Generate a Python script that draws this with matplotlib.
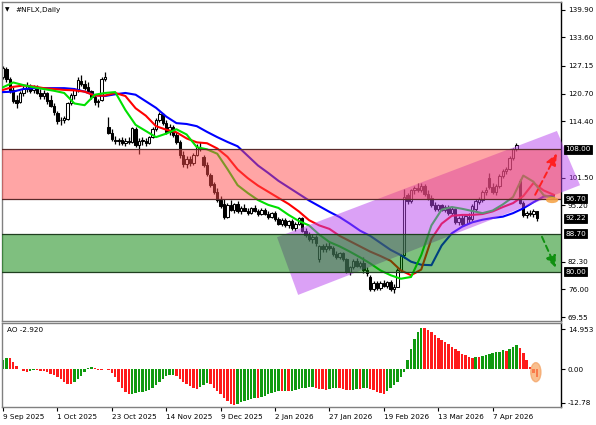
import numpy as np
import matplotlib
matplotlib.use("Agg")
import matplotlib.pyplot as plt
import matplotlib.transforms as mtransforms
from matplotlib.patches import Polygon, Ellipse

# ---- daily candles (NFLX), index 0 = 9 Sep 2025 ----
opens = [124.5, 126.3, 124.0, 121.5, 119.2, 118.8, 121.0, 121.8, 122.5, 121.5,
         122.3, 121.0, 120.3, 121.0, 119.2, 118.0, 116.4, 114.6, 114.8, 115.0,
         118.6, 120.4, 121.6, 123.6, 123.0, 122.2, 121.3, 120.0, 118.8, 119.2,
         124.0, 113.2, 111.8, 110.2, 109.8, 110.2, 109.4, 110.0, 109.6, 112.6,
         109.0, 109.8, 110.0, 109.5, 110.8, 112.6, 114.8, 116.0, 114.0, 112.0,
         113.0, 111.2, 109.7, 106.8, 104.6, 105.8, 104.8, 106.8, 108.4, 106.2,
         104.4, 102.2, 100.0, 98.3, 96.5, 95.5, 92.6, 95.3, 94.2, 95.5,
         93.9, 94.6, 94.0, 93.5, 94.5, 93.9, 93.2, 94.2, 93.3, 92.5,
         93.4, 92.0, 91.0, 91.8, 90.6, 91.5, 89.9, 91.0, 92.2, 89.4,
         88.4, 87.5, 88.0, 83.0, 85.8, 85.2, 86.0, 85.4, 84.0, 83.4,
         84.2, 82.8, 80.0, 81.0, 82.4, 81.4, 82.0, 80.4, 78.8, 76.0,
         77.4, 76.2, 77.4, 76.8, 77.6, 76.0, 76.6, 80.4, 83.8, 97.5,
         96.2, 98.6, 99.2, 98.6, 99.6, 97.8, 96.9, 95.2, 94.4, 95.2,
         94.2, 94.8, 93.4, 94.4, 91.4, 92.4, 91.0, 92.6, 92.0, 94.4,
         96.0, 96.4, 98.2, 101.4, 99.4, 98.2, 99.6, 102.0, 103.0, 103.6,
         106.0, 108.0, 100.8, 95.8, 93.0, 93.4, 93.2, 93.8]
highs = [127.0, 126.8, 124.5, 122.3, 120.5, 121.4, 122.5, 123.3, 123.0, 122.8,
         122.7, 121.8, 121.5, 121.2, 120.4, 118.5, 116.8, 115.5, 115.6, 118.8,
         121.0, 122.0, 124.5, 125.0, 123.8, 123.3, 121.6, 120.4, 119.5, 124.5,
         125.8, 115.4, 112.6, 111.0, 110.6, 110.8, 110.6, 110.9, 113.2, 113.0,
         110.5, 110.8, 110.7, 111.0, 113.0, 115.2, 116.6, 116.4, 114.8, 113.8,
         113.5, 112.0, 110.2, 107.6, 106.4, 106.5, 107.2, 109.2, 109.6, 106.8,
         105.0, 102.6, 100.6, 99.2, 97.4, 96.6, 95.8, 96.4, 95.8, 96.2,
         95.0, 95.5, 94.6, 94.8, 95.2, 94.3, 94.5, 94.6, 93.8, 93.6,
         94.0, 92.6, 92.3, 92.2, 91.8, 92.0, 91.4, 92.6, 92.5, 90.0,
         89.2, 88.6, 88.3, 86.2, 86.4, 86.5, 86.8, 85.8, 84.8, 84.6,
         84.6, 83.2, 81.4, 82.8, 83.2, 82.4, 83.4, 81.0, 79.2, 77.8,
         77.9, 77.8, 78.0, 77.9, 78.0, 77.2, 80.8, 84.0, 99.0, 98.0,
         99.0, 99.6, 100.2, 100.4, 100.0, 98.6, 97.6, 96.0, 95.6, 95.6,
         95.2, 95.2, 94.8, 94.6, 92.8, 93.0, 93.2, 93.4, 95.4, 96.6,
         97.0, 98.6, 99.4, 102.6, 100.4, 100.0, 102.4, 103.4, 104.0, 106.4,
         108.4, 109.4, 101.2, 96.2, 93.8, 94.2, 94.4, 94.0]
lows = [124.0, 123.5, 120.8, 118.5, 117.5, 118.5, 120.3, 121.2, 121.0, 120.8,
        120.6, 119.5, 119.6, 118.4, 117.6, 115.8, 113.8, 113.5, 114.0, 114.8,
        118.2, 119.5, 121.2, 122.6, 121.6, 121.0, 119.6, 118.2, 117.6, 119.0,
        123.6, 111.4, 109.8, 109.2, 109.0, 109.0, 108.8, 109.2, 109.4, 108.6,
        107.0, 109.0, 108.8, 109.2, 110.5, 112.2, 114.3, 113.5, 111.5, 111.2,
        110.8, 109.2, 106.0, 104.0, 103.8, 104.3, 104.5, 106.4, 107.6, 104.0,
        101.8, 99.4, 97.8, 96.0, 94.6, 92.0, 92.2, 93.8, 93.5, 93.4,
        93.2, 93.8, 93.0, 93.2, 93.6, 92.8, 92.9, 93.0, 92.0, 92.2,
        91.6, 90.6, 90.4, 90.2, 90.0, 89.5, 89.4, 90.6, 89.0, 88.0,
        87.0, 86.6, 86.0, 82.2, 84.6, 84.5, 85.0, 83.6, 83.0, 82.8,
        82.4, 79.6, 79.2, 80.6, 81.0, 80.8, 79.8, 79.0, 75.6, 75.6,
        75.8, 75.9, 76.4, 76.2, 75.5, 75.2, 76.4, 80.0, 83.2, 95.6,
        95.8, 97.8, 98.2, 98.2, 97.4, 96.4, 94.8, 94.0, 93.8, 93.8,
        93.6, 93.0, 93.0, 91.0, 90.6, 90.4, 90.6, 91.2, 91.6, 93.8,
        95.4, 96.0, 97.6, 99.0, 97.8, 97.6, 99.2, 101.4, 102.4, 103.2,
        105.6, 107.6, 95.4, 92.6, 92.4, 92.8, 92.6, 91.6]
closes = [126.5, 124.2, 121.3, 119.0, 118.6, 121.0, 121.8, 122.6, 121.4, 122.3,
          121.0, 120.2, 121.0, 119.0, 118.0, 116.5, 114.5, 114.8, 115.2, 118.5,
          120.4, 121.6, 123.8, 122.9, 122.1, 121.4, 120.0, 118.8, 119.0, 124.0,
          124.5, 111.8, 110.3, 109.8, 110.2, 109.4, 110.0, 109.6, 112.8, 109.0,
          109.8, 110.2, 109.5, 110.8, 112.6, 114.8, 116.2, 114.0, 112.0, 113.2,
          111.2, 109.7, 106.8, 104.6, 105.8, 104.8, 106.8, 108.6, 108.0, 104.4,
          102.3, 99.8, 98.3, 96.5, 95.0, 92.6, 95.3, 94.2, 95.5, 93.9,
          94.6, 94.0, 93.5, 94.5, 93.9, 93.2, 94.2, 93.3, 92.5, 93.4,
          92.0, 91.0, 91.8, 90.6, 91.5, 89.9, 91.0, 92.2, 89.4, 88.4,
          87.5, 88.0, 86.5, 85.8, 85.2, 86.0, 85.4, 84.0, 83.4, 84.2,
          82.8, 80.0, 81.0, 82.4, 81.4, 82.0, 80.4, 79.6, 76.0, 77.4,
          76.2, 77.4, 76.8, 77.6, 76.0, 76.6, 80.4, 83.6, 97.0, 96.2,
          98.6, 99.2, 98.6, 99.6, 97.8, 96.9, 95.2, 94.4, 95.2, 94.2,
          94.8, 93.4, 94.4, 91.4, 92.4, 91.0, 92.8, 92.0, 95.0, 96.2,
          96.6, 98.2, 98.8, 99.4, 98.2, 99.6, 102.0, 103.0, 103.6, 106.0,
          108.0, 108.9, 95.8, 93.0, 93.4, 93.2, 93.8, 92.22]

# ---- Alligator lines, one value every 3 bars ----
line_step = 3
jaw = [121.1, 121.2, 121.8, 122.0, 122.0, 122.0, 122.0, 121.8, 121.2, 120.4,
       120.2, 120.6, 120.9, 120.5, 119.0, 117.5, 115.5, 114.0, 113.8, 113.3,
       112.0, 110.8, 109.7, 108.7, 106.5, 104.3, 102.6, 100.8, 99.3, 97.8,
       96.3, 95.0, 93.7, 92.5, 91.0, 89.4, 88.2, 86.6, 85.0, 83.8,
       82.3, 81.6, 81.5, 86.0, 88.8, 90.3, 91.3, 91.9, 92.3, 92.6,
       93.4, 94.5, 95.9, 97.2, 97.4]
teeth = [121.6, 122.3, 122.6, 122.4, 122.0, 121.8, 121.6, 121.5, 121.2, 120.3,
         120.3, 120.9, 120.2, 117.4, 115.7, 113.3, 112.5, 111.9, 110.5, 109.6,
         109.4, 108.2, 106.3, 103.4, 101.4, 99.7, 98.3, 96.9, 95.5, 93.8,
         91.8, 90.6, 89.8, 88.2, 87.0, 85.8, 84.6, 83.6, 82.5, 80.3,
         79.2, 80.5, 87.5, 91.0, 92.8, 93.0, 93.0, 93.2, 93.8, 94.8,
         95.7, 97.3, 100.3, 98.6, 97.6]
lips = [122.2, 123.3, 122.7, 122.2, 121.8, 121.4, 120.9, 118.5, 118.1, 120.5,
        120.9, 121.1, 117.0, 113.6, 112.2, 110.8, 111.6, 112.6, 111.4, 108.5,
        108.0, 107.0, 103.5, 99.8, 98.0, 96.4, 95.3, 94.6, 93.0, 91.6,
        90.6, 88.5, 86.8, 85.8, 84.6, 83.3, 81.9, 80.3, 79.2, 78.4,
        78.8, 83.8, 90.6, 94.2, 94.8, 94.4, 93.9, 93.4, 94.0, 95.4,
        97.1, 102.0, 100.6, 97.5, 96.9]

# ---- Awesome Oscillator ----
ao = [3.5, 4.3, 4.0, 2.5, 1.0, 0.1, -0.8, -1.2, -0.9, -0.4,
      -0.5, -0.7, -0.9, -1.2, -1.7, -2.3, -3.0, -3.8, -4.8, -5.5,
      -5.6, -5.0, -3.8, -2.5, -1.3, 0.3, 0.8, 0.5, -0.4, -0.5,
      0.1, -0.3, -1.5, -3.0, -5.0, -7.0, -8.8, -9.5, -9.3, -8.9,
      -8.6, -8.5, -8.2, -7.8, -7.0, -6.0, -5.0, -3.8, -2.8, -2.3,
      -2.2, -2.6, -3.6, -4.8, -5.7, -6.4, -7.0, -7.4, -6.8, -5.9,
      -5.4, -5.8, -7.0, -8.2, -9.5, -11.0, -12.2, -13.2, -13.6, -13.0,
      -12.4, -11.9, -11.6, -11.3, -11.0, -11.1, -10.6, -10.2, -9.6, -9.0,
      -8.5, -8.3, -8.4, -8.3, -8.4, -8.1, -7.9, -7.5, -7.1, -7.0,
      -6.9, -6.8, -7.2, -7.5, -7.7, -7.8, -7.5, -7.2, -7.0, -7.2,
      -7.5, -7.8, -8.0, -7.8, -7.6, -7.7, -7.3, -7.0, -7.4, -7.8,
      -8.5, -8.9, -9.3, -8.3, -7.3, -6.2, -4.8, -2.9, -1.0, 3.4,
      7.4, 11.2, 14.1, 15.6, 15.5, 14.8, 13.8, 12.8, 11.8, 11.0,
      10.2, 9.3, 8.4, 7.5, 6.6, 5.8, 5.1, 4.7, 4.3, 4.5,
      4.4, 4.9, 5.3, 5.7, 6.0, 6.3, 6.5, 7.0, 6.8, 7.4,
      8.2, 9.1, 7.8, 6.1, 3.4, 0.9, -1.4, -2.92]

# axis labels
date_ticks = [0, 16, 32, 48, 64, 80, 96, 112, 128, 144]
date_labels = ["9 Sep 2025", "1 Oct 2025", "23 Oct 2025", "14 Nov 2025", "9 Dec 2025",
               "2 Jan 2026", "27 Jan 2026", "19 Feb 2026", "13 Mar 2026", "7 Apr 2026"]
price_ticks = [139.90, 133.60, 127.15, 120.70, 114.40, 101.50, 95.20, 82.30, 76.00, 69.55]
price_boxes = [108.00, 96.70, 92.22, 88.70, 80.00]
ao_ticks = [14.953, 0.0, -12.78]
ao_tick_labels = ["14.953", "0.00", "-12.78"]

# zones and analyst drawings (bar index, price)
sell_zone = (96.70, 108.00)
buy_zone = (80.00, 88.70)
channel = [(80.6, 87.9), (162.9, 112.2), (169.7, 99.8), (86.8, 74.7)]
up_arrow = [(156.5, 97.6), (162.9, 107.1)]
down_arrow = [(158.5, 88.0), (162.6, 80.9)]

FS = 5.2
plt.rcParams["font.family"] = ["DejaVu Sans"]

W, H = 596, 425
fig = plt.figure(figsize=(W / 100, H / 100), dpi=100)
fig.patch.set_facecolor("white")
ax = fig.add_axes([2 / W, 1 - 321 / H, 559 / W, 319 / H])
ax2 = fig.add_axes([2 / W, 1 - 407 / H, 559 / W, 84 / H])

xmin, xmax = -0.29, 164.1
for a in (ax, ax2):
    a.set_xlim(xmin, xmax)
    for s in ("top", "left", "bottom"):
        a.spines[s].set_color("#808080")
        a.spines[s].set_linewidth(1.0)
    a.spines["right"].set_color("black")
    a.spines["right"].set_linewidth(1.0)
ax.set_ylim(68.73, 141.71)
ax2.set_ylim(-14.31, 17.33)

# candles
o = np.array(opens); h = np.array(highs); l = np.array(lows); c = np.array(closes)
idx = np.arange(len(c))
up = c >= o
ax.vlines(idx, l, h, color="black", lw=0.9, zorder=2)
bot = np.minimum(o, c)
hgt = np.maximum(np.abs(c - o), 0.15)
ax.bar(idx[up], hgt[up], bottom=bot[up], width=0.7, facecolor="white",
       edgecolor="black", linewidth=0.75, zorder=2.5)
ax.bar(idx[~up], hgt[~up], bottom=bot[~up], width=0.7, color="black",
       edgecolor="black", linewidth=0.75, zorder=2.5)

# alligator
lx = np.arange(len(jaw)) * line_step
ax.plot(lx, jaw, color="#0000ff", lw=1.5, zorder=3)
ax.plot(lx, teeth, color="#ff0000", lw=1.5, zorder=3)
ax.plot(lx, lips, color="#00e000", lw=1.5, zorder=3)

# channel and zones
ax.add_patch(Polygon(channel, closed=True, facecolor="#b845ee", alpha=0.5,
                     edgecolor="none", zorder=4, clip_on=False))
ax.axhspan(*sell_zone, facecolor="#ff4d4d", alpha=0.5, edgecolor="none", zorder=5)
ax.axhspan(*buy_zone, facecolor="#008000", alpha=0.5, edgecolor="none", zorder=5)
for v in sell_zone:
    ax.axhline(v, color="#5a2a2a", lw=0.9, zorder=5.5)
for v in buy_zone:
    ax.axhline(v, color="#1f3f1f", lw=0.9, zorder=5.5)

# forecast arrows
ax.annotate("", xy=up_arrow[1], xytext=up_arrow[0], annotation_clip=False, zorder=7,
            arrowprops=dict(arrowstyle="-|>,head_length=0.7,head_width=0.3",
                            color="#ff2020", lw=1.4, linestyle=(0, (3, 2)),
                            shrinkA=0, shrinkB=0))
ax.annotate("", xy=down_arrow[1], xytext=down_arrow[0], annotation_clip=False, zorder=7,
            arrowprops=dict(arrowstyle="-|>,head_length=0.7,head_width=0.3",
                            color="#109010", lw=1.4, linestyle=(0, (3, 2)),
                            shrinkA=0, shrinkB=0))
ax.add_patch(Ellipse((161.5, 96.4), 3.6, 1.4, facecolor="#f5a040", alpha=0.85,
                     edgecolor="none", zorder=6.5, clip_on=False))

# price axis
ax.yaxis.tick_right()
ax.set_yticks(price_ticks)
ax.set_yticklabels([f"{v:.2f}" for v in price_ticks])
ax.tick_params(axis="y", direction="out", length=3, width=0.8, pad=2,
               labelsize=FS, colors="black")
ax.set_xticks([])
trans = mtransforms.blended_transform_factory(ax.transAxes, ax.transData)
for v in price_boxes:
    ax.text(1.0075, v, f"{v:.2f}", transform=trans, ha="left", va="center",
            fontsize=FS, color="white", zorder=10, clip_on=False,
            bbox=dict(boxstyle="square,pad=0.2", fc="black", ec="black", lw=0.6))

ax.text(0.006, 0.975, "\u25bc", transform=ax.transAxes, fontsize=4.2,
        va="center", ha="left")
ax.text(0.024, 0.975, "#NFLX,Daily", transform=ax.transAxes, fontsize=FS,
        va="center", ha="left")

# AO panel
aov = np.array(ao)
ao_col = ["#0f9a0f"] + ["#0f9a0f" if aov[i] > aov[i - 1] else "#ff1a1a"
                        for i in range(1, len(aov))]
ax2.bar(np.arange(len(aov)), aov, width=0.74, color=ao_col, zorder=2)
ax2.add_patch(Ellipse((156.7, -1.2), 3.0, 7.2, facecolor="#f7a560", alpha=0.7,
                      edgecolor="#f3a060", lw=1.0, zorder=3))
ax2.yaxis.tick_right()
ax2.set_yticks(ao_ticks)
ax2.set_yticklabels(ao_tick_labels)
ax2.tick_params(axis="y", direction="out", length=3, width=0.8, pad=2,
                labelsize=FS, colors="black")
ax2.set_xticks(date_ticks)
ax2.set_xticklabels(date_labels, ha="left")
ax2.tick_params(axis="x", direction="out", length=3, width=0.8, pad=2,
                labelsize=FS, colors="black")
ax2.text(0.009, 0.917, "AO -2.920", transform=ax2.transAxes, fontsize=FS,
         va="center", ha="left")

fig.savefig("out.png", dpi=100)
